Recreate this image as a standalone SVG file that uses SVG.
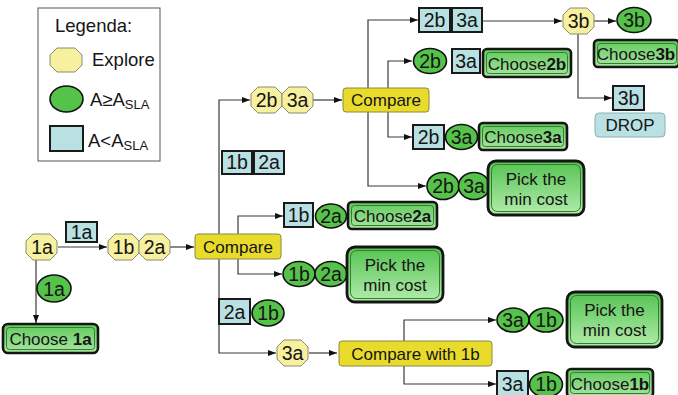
<svg xmlns="http://www.w3.org/2000/svg" width="678" height="395" viewBox="0 0 678 395">
<defs>
<style>
text{font-family:"Liberation Sans",Arial,sans-serif;fill:#151515}
.lbl{font-size:19.5px;text-anchor:middle}
.t17{font-size:17px;text-anchor:middle}
.leg{font-size:18.5px}
.oct{fill:#f7f09e;stroke:#8a8a70;stroke-width:1}
.ell{fill:#55c24a;stroke:#111;stroke-width:1.6}
.blu{fill:#b9e0e3;stroke:#1a1a1a;stroke-width:2}
.cmp{fill:#e8db2c;stroke:#8c8a40;stroke-width:1}
.out{fill:url(#gc);stroke:#151515;stroke-width:2.6}
.outp{fill:url(#gp);stroke:#151515;stroke-width:2.8}
.inn{fill:none;stroke:#2f7f2f;stroke-width:1}
.drop{fill:#b9e0e3;stroke:#8fb0b4;stroke-width:1}
.con{fill:none;stroke:#3a3a3a;stroke-width:1.2}
</style>
<linearGradient id="gc" x1="0" y1="0" x2="0" y2="1">
<stop offset="0" stop-color="#62c95c"/><stop offset="1" stop-color="#a9e6a2"/>
</linearGradient>
<linearGradient id="gp" x1="0" y1="0" x2="0" y2="1">
<stop offset="0" stop-color="#55c352"/><stop offset="1" stop-color="#b3ecac"/>
</linearGradient>
<polygon id="oct" points="7,0 24,0 31,7 31,19 24,26 7,26 0,19 0,7"/>
<marker id="ar" viewBox="0 0 8 6" refX="8" refY="3" markerWidth="8" markerHeight="6" markerUnits="userSpaceOnUse" orient="auto">
<path d="M0,0 L8,3 L0,6 Z" fill="#111"/>
</marker>
</defs>
<rect width="678" height="395" fill="#fff"/>

<g id="legend">
<rect x="38" y="8" width="122" height="153" fill="#fff" stroke="#555" stroke-width="1"/>
<text class="leg" x="55" y="32">Legenda:</text>
<polygon class="oct" points="57,48 75,48 82,55 82,65 75,72 57,72 50,65 50,55"/>
<text class="leg" x="92" y="66">Explore</text>
<ellipse class="ell" cx="66.5" cy="99" rx="16.5" ry="13"/>
<text class="leg" x="90" y="106">A≥A<tspan font-size="13" dy="3">SLA</tspan></text>
<rect class="blu" x="50" y="126" width="33" height="25"/>
<text class="leg" x="88" y="147">A&lt;A<tspan font-size="13" dy="3">SLA</tspan></text>
</g>

<g id="connectors">
<path class="con" d="M58,247 H107" marker-end="url(#ar)"/>
<path class="con" d="M36,260 V323" marker-end="url(#ar)"/>
<path class="con" d="M170,247 H194" marker-end="url(#ar)"/>
<path class="con" d="M219,234 V100 H250" marker-end="url(#ar)"/>
<path class="con" d="M219,259 V353 H276" marker-end="url(#ar)"/>
<path class="con" d="M238,234 V216 H283" marker-end="url(#ar)"/>
<path class="con" d="M238,259 V274 H282" marker-end="url(#ar)"/>
<path class="con" d="M313,100 H342" marker-end="url(#ar)"/>
<path class="con" d="M368,88 V20 H418" marker-end="url(#ar)"/>
<path class="con" d="M388,88 V61 H412" marker-end="url(#ar)"/>
<path class="con" d="M388,112 V137 H412" marker-end="url(#ar)"/>
<path class="con" d="M368,112 V186 H426" marker-end="url(#ar)"/>
<path class="con" d="M482,21 H562" marker-end="url(#ar)"/>
<path class="con" d="M594,21 H616" marker-end="url(#ar)" stroke="#777"/>
<path class="con" d="M578,34 V98 H612" marker-end="url(#ar)" stroke="#777"/>
<path class="con" d="M309,353 H337" marker-end="url(#ar)"/>
<path class="con" d="M404,341 V320 H496" marker-end="url(#ar)"/>
<path class="con" d="M404,366 V384 H496" marker-end="url(#ar)"/>
</g>

<g id="n-1a">
<use href="#oct" class="oct" x="26" y="234"/>
<text class="lbl" x="42" y="254">1a</text>
</g>
<g id="n-1a-below">
<rect class="blu" x="66" y="222" width="31" height="20"/>
<text class="lbl" x="81.5" y="239">1a</text>
</g>
<g id="n-1a-ok">
<ellipse class="ell" cx="54" cy="288.5" rx="17" ry="13.5"/>
<text class="lbl" x="54" y="295.5">1a</text>
</g>
<g id="n-choose1a">
<rect class="out" x="3" y="324" width="95" height="29" rx="5"/>
<rect class="inn" x="6.5" y="327.5" width="88" height="22" rx="3"/>
<text class="t17" x="50.5" y="345">Choose <tspan font-weight="bold">1a</tspan></text>
</g>

<g id="n-1b2a">
<use href="#oct" class="oct" x="108" y="234"/>
<text class="lbl" x="123.5" y="254">1b</text>
<use href="#oct" class="oct" x="139" y="234"/>
<text class="lbl" x="154.5" y="254">2a</text>
</g>
<g id="n-compare1">
<rect class="cmp" x="195" y="234" width="86" height="25" rx="3"/>
<text class="t17" x="238" y="252.5">Compare</text>
</g>

<g id="n-1b2a-below">
<rect class="blu" x="222" y="151" width="30" height="23"/>
<text class="lbl" x="237" y="169">1b</text>
<rect class="blu" x="254" y="151" width="30" height="23"/>
<text class="lbl" x="269" y="169">2a</text>
</g>

<g id="n-2b3a">
<use href="#oct" class="oct" x="251" y="87"/>
<text class="lbl" x="266.5" y="107">2b</text>
<use href="#oct" class="oct" x="282" y="87"/>
<text class="lbl" x="297.5" y="107">3a</text>
</g>
<g id="n-compare2">
<rect class="cmp" x="343" y="88" width="86" height="24" rx="3"/>
<text class="t17" x="386" y="106">Compare</text>
</g>

<g id="n-row1">
<rect class="blu" x="419" y="8" width="31" height="24"/>
<text class="lbl" x="434.5" y="27">2b</text>
<rect class="blu" x="452" y="8" width="30" height="24"/>
<text class="lbl" x="467" y="27">3a</text>
</g>
<g id="n-3b">
<use href="#oct" class="oct" x="563" y="8"/>
<text class="lbl" x="578.5" y="28">3b</text>
</g>
<g id="n-3b-ok">
<ellipse class="ell" cx="634" cy="20" rx="17" ry="12.5"/>
<text class="lbl" x="634" y="27">3b</text>
</g>
<g id="n-choose3b">
<rect class="out" x="594" y="40" width="85" height="27" rx="4"/>
<rect class="inn" x="597.5" y="43.5" width="79" height="20" rx="3"/>
<text class="t17" x="636" y="60">Choose<tspan font-weight="bold">3b</tspan></text>
</g>
<g id="n-3b-below">
<rect class="blu" x="613" y="86" width="31" height="24"/>
<text class="lbl" x="628.5" y="105">3b</text>
</g>
<g id="n-drop">
<rect class="drop" x="595" y="113" width="70" height="24" rx="4"/>
<text class="t17" x="630" y="131">DROP</text>
</g>

<g id="n-row2">
<ellipse class="ell" cx="430" cy="61" rx="16.5" ry="12.5"/>
<text class="lbl" x="430" y="68">2b</text>
<rect class="blu" x="452" y="49" width="28" height="24"/>
<text class="lbl" x="466" y="68">3a</text>
</g>
<g id="n-choose2b">
<rect class="out" x="483" y="49" width="88" height="28" rx="4"/>
<rect class="inn" x="486.5" y="52.5" width="81" height="21" rx="3"/>
<text class="t17" x="527" y="69.5">Choose<tspan font-weight="bold">2b</tspan></text>
</g>

<g id="n-row3">
<rect class="blu" x="413" y="125" width="31" height="24"/>
<text class="lbl" x="428.5" y="144">2b</text>
<ellipse class="ell" cx="461.5" cy="137" rx="16" ry="12.5"/>
<text class="lbl" x="461.5" y="144">3a</text>
</g>
<g id="n-choose3a">
<rect class="out" x="479" y="123" width="88" height="27" rx="4"/>
<rect class="inn" x="482.5" y="126.5" width="81" height="20" rx="3"/>
<text class="t17" x="523" y="143">Choose<tspan font-weight="bold">3a</tspan></text>
</g>

<g id="n-row4">
<ellipse class="ell" cx="443" cy="186" rx="16" ry="13.5"/>
<text class="lbl" x="443" y="193">2b</text>
<ellipse class="ell" cx="474" cy="186" rx="15.5" ry="13.5"/>
<text class="lbl" x="474" y="193">3a</text>
</g>
<g id="n-pick1">
<rect class="outp" x="488" y="161" width="96" height="54" rx="8"/>
<rect class="inn" x="491.5" y="164.5" width="89" height="47" rx="6"/>
<text class="t17" x="536" y="185">Pick the</text>
<text class="t17" x="536" y="205">min cost</text>
</g>

<g id="n-row5">
<rect class="blu" x="284" y="203" width="29" height="24"/>
<text class="lbl" x="298.5" y="222">1b</text>
<ellipse class="ell" cx="331" cy="216" rx="15.5" ry="12"/>
<text class="lbl" x="331" y="223">2a</text>
</g>
<g id="n-choose2a">
<rect class="out" x="348" y="202" width="89" height="27" rx="4"/>
<rect class="inn" x="351.5" y="205.5" width="82" height="20" rx="3"/>
<text class="t17" x="392.5" y="222">Choose<tspan font-weight="bold">2a</tspan></text>
</g>

<g id="n-row6">
<ellipse class="ell" cx="299" cy="274" rx="16" ry="12.5"/>
<text class="lbl" x="299" y="281">1b</text>
<ellipse class="ell" cx="331" cy="274" rx="16" ry="12.5"/>
<text class="lbl" x="331" y="281">2a</text>
</g>
<g id="n-pick2">
<rect class="outp" x="347" y="247" width="96" height="55" rx="8"/>
<rect class="inn" x="350.5" y="250.5" width="89" height="48" rx="6"/>
<text class="t17" x="395" y="271">Pick the</text>
<text class="t17" x="395" y="291">min cost</text>
</g>

<g id="n-2a1b-below">
<rect class="blu" x="219" y="299" width="31" height="25"/>
<text class="lbl" x="234.5" y="318.5">2a</text>
<ellipse class="ell" cx="268" cy="313" rx="16" ry="13"/>
<text class="lbl" x="268" y="320">1b</text>
</g>

<g id="n-3a">
<use href="#oct" class="oct" x="277" y="340"/>
<text class="lbl" x="292.5" y="360">3a</text>
</g>
<g id="n-compare3">
<rect class="cmp" x="339" y="341" width="153" height="25" rx="3"/>
<text class="t17" x="415.5" y="359.5">Compare with 1b</text>
</g>

<g id="n-row7">
<ellipse class="ell" cx="513" cy="320" rx="16" ry="12"/>
<text class="lbl" x="513" y="327">3a</text>
<ellipse class="ell" cx="546" cy="320" rx="17" ry="12"/>
<text class="lbl" x="546" y="327">1b</text>
</g>
<g id="n-pick3">
<rect class="outp" x="567" y="292" width="95" height="55" rx="8"/>
<rect class="inn" x="570.5" y="295.5" width="88" height="48" rx="6"/>
<text class="t17" x="614.5" y="316">Pick the</text>
<text class="t17" x="614.5" y="336">min cost</text>
</g>

<g id="n-row8">
<rect class="blu" x="497" y="371" width="31" height="26"/>
<text class="lbl" x="512.5" y="391">3a</text>
<ellipse class="ell" cx="546" cy="384.5" rx="16.5" ry="12.5"/>
<text class="lbl" x="546" y="391">1b</text>
</g>
<g id="n-choose1b">
<rect class="out" x="567" y="369" width="86" height="28" rx="4"/>
<rect class="inn" x="570.5" y="372.5" width="79" height="21" rx="3"/>
<text class="t17" x="610" y="390">Choose<tspan font-weight="bold">1b</tspan></text>
</g>
</svg>
